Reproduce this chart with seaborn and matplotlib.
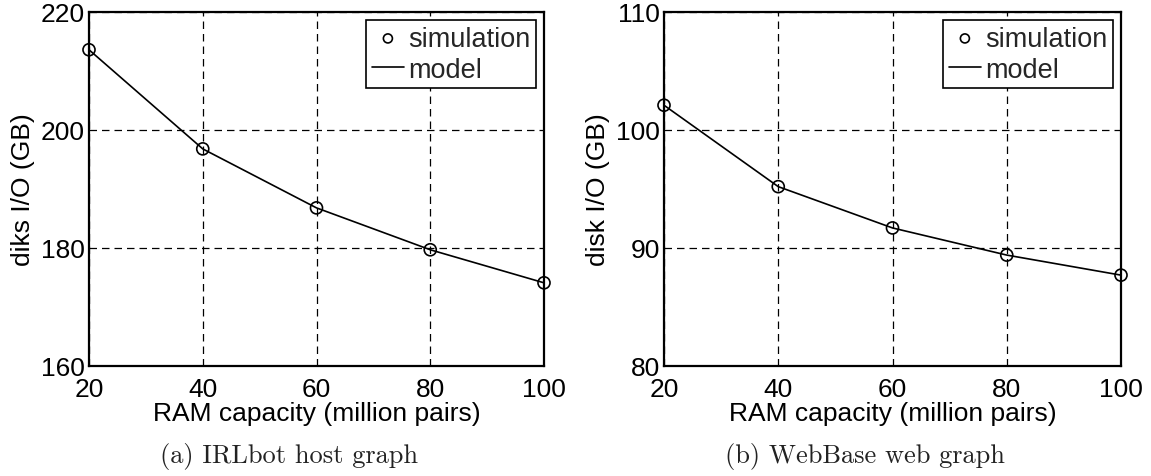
import matplotlib
matplotlib.use("Agg")
import matplotlib.pyplot as plt
import seaborn as sns
import pandas as pd

# RAM capacity (million pairs)
ram = [20, 40, 60, 80, 100]

# IRLbot host graph: disk I/O (GB)
irl_sim = [213.6, 196.8, 186.8, 179.7, 174.1]
irl_model = [213.6, 196.8, 186.8, 179.7, 174.1]

# WebBase web graph: disk I/O (GB)
wb_sim = [102.1, 95.2, 91.7, 89.4, 87.7]
wb_model = [102.1, 95.2, 91.7, 89.4, 87.7]

sns.set_theme(style="white")
plt.rcParams["font.family"] = ["Liberation Sans", "DejaVu Sans"]

fig = plt.figure(figsize=(11.51, 4.77), dpi=100)

panels = [
    dict(sim=irl_sim, model=irl_model, ylim=(160, 220), yticks=[160, 180, 200, 220],
         ylabel="diks I/O (GB)", caption="(a) IRLbot host graph",
         rect=[89 / 1151, 1 - 367 / 477, 455 / 1151, 354 / 477]),
    dict(sim=wb_sim, model=wb_model, ylim=(80, 110), yticks=[80, 90, 100, 110],
         ylabel="disk I/O (GB)", caption="(b) WebBase web graph",
         rect=[664 / 1151, 1 - 367 / 477, 457 / 1151, 354 / 477]),
]

for p in panels:
    ax = fig.add_axes(p["rect"])
    df = pd.DataFrame({"ram": ram, "sim": p["sim"], "model": p["model"]})
    sns.lineplot(data=df, x="ram", y="model", ax=ax, color="black", lw=1.2,
                 label="model", zorder=3)
    sns.scatterplot(data=df, x="ram", y="sim", ax=ax, marker="o", s=75,
                    facecolor="none", edgecolor="black", linewidth=1.2,
                    label="simulation", zorder=4, clip_on=False)
    ax.set_xlim(20, 100)
    ax.set_ylim(*p["ylim"])
    ax.set_xticks(ram)
    ax.set_yticks(p["yticks"])
    ax.grid(True, color="black", linestyle=(0, (6, 4)), linewidth=0.9)
    for s in ax.spines.values():
        s.set_visible(True)
        s.set_color("black")
        s.set_linewidth(1.6)
    ax.tick_params(axis="both", direction="in", length=4, width=1, colors="black",
                   labelsize=19)
    ax.tick_params(axis="x", pad=8)
    ax.tick_params(axis="y", pad=3)
    ax.set_xlabel("RAM capacity (million pairs)", fontsize=19, labelpad=0, color="black")
    ax.set_ylabel(p["ylabel"], fontsize=19, labelpad=4, color="black")

    handles, labels = ax.get_legend_handles_labels()
    order = [labels.index("simulation"), labels.index("model")]
    leg = ax.legend([handles[i] for i in order], [labels[i] for i in order],
                    loc="upper right", fontsize=19.5, frameon=True, fancybox=False,
                    edgecolor="black", framealpha=1, borderpad=0.2, labelspacing=0.2,
                    handlelength=1.2, handletextpad=0.15, borderaxespad=0.3,
                    markerscale=0.75)
    leg.get_frame().set_linewidth(1.2)

    cx = p["rect"][0] + p["rect"][2] / 2
    fig.text(cx - 0.024, 0.042, p["caption"], ha="center", va="center",
             fontsize=19, family="cmr10", color="#222222")

fig.savefig("out.png", dpi=100)
